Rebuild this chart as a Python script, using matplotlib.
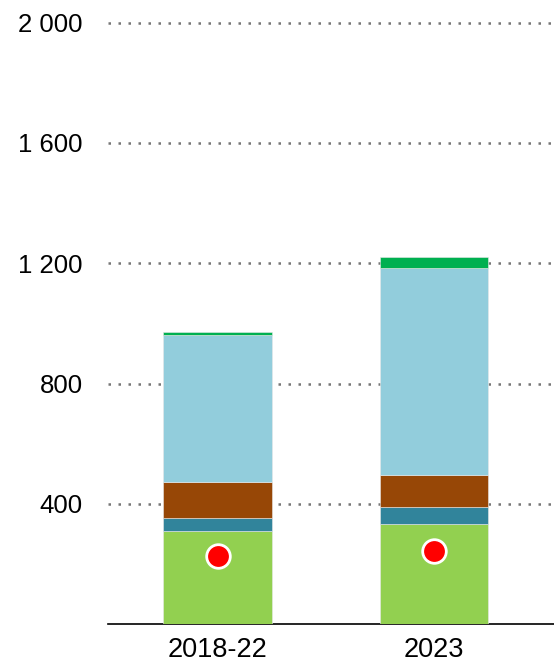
import matplotlib.pyplot as plt
import numpy as np

plt.rcParams['font.family'] = ['Liberation Sans', 'DejaVu Sans']

# data
periods = ["2018-22", "2023"]
seg_green = [311, 332]
seg_teal = [41, 58]
seg_brown = [120, 107]
seg_lightblue = [490, 688]
seg_topgreen = [9, 37]
dot_values = [227, 245]

y_ticks = [400, 800, 1200, 1600, 2000]
y_tick_labels = ["400", "800", "1 200", "1 600", "2 000"]

colors = ["#92D050", "#31849B", "#974706", "#92CDDC", "#00B050"]

fig = plt.figure(figsize=(5.54, 6.66), dpi=100)
ax = fig.add_axes([108 / 554, (666 - 624.3) / 666, 446 / 554, 624.3 / 666])

x = np.arange(len(periods))
bottom = np.zeros(len(periods))
for seg, c in zip([seg_green, seg_teal, seg_brown, seg_lightblue, seg_topgreen], colors):
    ax.bar(x, seg, width=0.5, bottom=bottom, color=c, zorder=3,
           edgecolor="#e8e8e8", linewidth=0.4)
    bottom += np.array(seg)

ax.plot(x, dot_values, linestyle="none", marker="o", markersize=17,
        markerfacecolor="#FF0000", markeredgecolor="white", markeredgewidth=2, zorder=4)

ax.set_xlim(-0.506, 1.554)
ax.set_ylim(0, 2075)
ax.set_yticks(y_ticks)
ax.set_yticklabels(y_tick_labels, fontsize=18.5)
ax.set_xticks(x)
ax.set_xticklabels(periods, fontsize=19.5)
ax.tick_params(axis="y", length=0, pad=18)
ax.tick_params(axis="x", length=0, pad=9)

ax.grid(axis="y", linestyle=(0, (1, 3)), color="#777777", linewidth=1.8, zorder=0)
for s in ["top", "right", "left"]:
    ax.spines[s].set_visible(False)
ax.spines["bottom"].set_color("black")
ax.spines["bottom"].set_linewidth(1.2)

fig.savefig("out.png", dpi=100)
